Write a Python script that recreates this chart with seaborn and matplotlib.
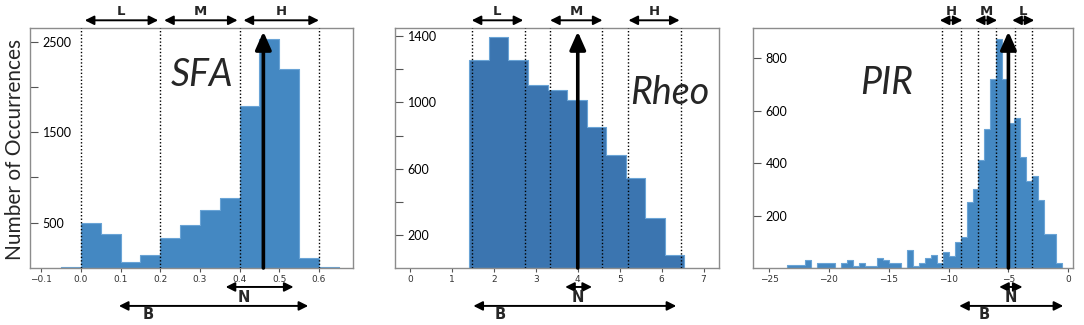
import numpy as np
import pandas as pd
import matplotlib
matplotlib.use('Agg')
import matplotlib.pyplot as plt
import seaborn as sns

sns.set_style('white')
plt.rcParams['font.family'] = ['DejaVu Sans']

# SFA histogram (bin width 0.05)
sfa_edges = np.round(np.arange(-0.05, 0.651, 0.05), 3)
sfa_counts = [15, 495, 377, 62, 143, 326, 473, 641, 773, 1788, 2524, 2201, 114, 11]
sfa_lines = [0.0, 0.2, 0.4, 0.6]
sfa_levels = ['L', 'M', 'H']
sfa_spans = [(0.01, 0.195), (0.21, 0.395), (0.41, 0.60)]
sfa_mean = 0.46
sfa_n = [0.365, 0.536]
sfa_b = [0.096, 0.573]

# Rheo histogram
rheo_edges = np.round(1.415 + 0.466 * np.arange(12), 3)
rheo_counts = [1255, 1395, 1255, 1103, 1073, 1014, 854, 684, 542, 300, 77]
rheo_lines = [1.47, 2.73, 3.34, 4.59, 5.19, 6.47]
rheo_levels = ['L', 'M', 'H']
rheo_spans = [(1.47, 2.70), (3.34, 4.59), (5.21, 6.43)]
rheo_mean = 4.0
rheo_n = [3.70, 4.34]
rheo_b = [1.51, 6.35]

# PIR histogram (bin width 0.5)
pir_edges = np.round(np.arange(-23.5, -0.49, 0.5), 2)
pir_counts = [10, 10, 10, 29, 0, 19, 19, 19, 0, 19, 29, 9, 19, 9, 9, 39, 29, 19, 19, 0,
              70, 9, 19, 38, 48, 19, 60, 47, 99, 118, 252, 300, 412, 531, 722, 874, 722,
              551, 573, 425, 330, 349, 260, 129, 129, 19]
pir_lines = [-10.53, -8.97, -7.53, -6.05, -4.49, -3.04]
pir_levels = ['H', 'M', 'L']
pir_spans = [(-10.73, -8.84), (-7.8, -5.94), (-4.68, -2.84)]
pir_mean = -5.0
pir_n = [-5.77, -3.82]
pir_b = [-9.11, -0.42]


def double_arrow(ax, x0, x1, y):
    ax.annotate('', xy=(x0, y), xytext=(x1, y),
                xycoords=('data', 'axes fraction'), annotation_clip=False,
                arrowprops=dict(arrowstyle='<|-|>,head_width=0.3,head_length=0.6',
                                lw=1.4, color='black', shrinkA=0, shrinkB=0,
                                mutation_scale=9))


def draw_panel(ax, edges, counts, color, lines, levels, spans, mean, n_rng, b_rng,
               name, name_xy, xlim, ylim, xticks, yticks, ylabels, n_x, b_x):
    df = pd.DataFrame({'x': (edges[:-1] + edges[1:]) / 2, 'w': counts})
    sns.histplot(data=df, x='x', weights='w', bins=list(edges), element='step', fill=True,
                 color=color, alpha=1, edgecolor='#6aa4d6', linewidth=0.8, ax=ax)
    ax.set_xlim(xlim)
    ax.set_ylim(ylim)
    ax.set_xlabel('')
    ax.set_ylabel('')

    # dotted level boundaries
    for v in lines:
        ax.axvline(v, color='black', linestyle=(0, (1, 1.5)), lw=1, zorder=3)

    # level arrows above the axes
    for (a, b), lab in zip(spans, levels):
        double_arrow(ax, a, b, 1.032)
        ax.text((a + b) / 2, 1.07, lab, transform=ax.get_xaxis_transform(),
                ha='center', va='center', fontsize=9.5, fontweight='bold')

    # mean arrow
    ax.annotate('', xy=(mean, 0.985), xytext=(mean, 0),
                xycoords=('data', 'axes fraction'),
                arrowprops=dict(arrowstyle='-|>,head_width=0.4,head_length=0.9',
                                lw=2.6, color='black', shrinkA=0, shrinkB=0,
                                mutation_scale=12), zorder=5)

    # N and B arrows below the axes
    for rng, lab, lx, ya, yl in [(n_rng, 'N', n_x, -0.079, -0.122),
                                 (b_rng, 'B', b_x, -0.158, -0.195)]:
        double_arrow(ax, rng[0], rng[1], ya)
        ax.text(lx, yl, lab, transform=ax.get_xaxis_transform(), ha='center',
                va='center', fontsize=10.5, fontweight='bold')

    ax.text(name_xy[0], name_xy[1], name, transform=ax.transAxes, ha='center',
            va='center', fontsize=27, style='italic', family='Lato')

    ax.set_xticks(xticks)
    ax.tick_params(axis='x', direction='out', length=3, width=0.8, colors='#555555',
                   labelsize=6.5, labelcolor='#333333', pad=2, bottom=True)
    ax.set_yticks(yticks)
    ax.set_yticklabels(ylabels, family='Lato', fontsize=9, ha='left')
    ax.tick_params(axis='y', direction='in', length=6, width=0.8, colors='#555555',
                   labelcolor='black', pad=-9, left=True)
    for s in ax.spines.values():
        s.set_visible(True)
        s.set_color('#8c8c8c')
        s.set_linewidth(1)


fig = plt.figure(figsize=(10.84, 3.25), dpi=100)
bottom, height = 0.1754, 0.7385
ax1 = fig.add_axes([0.0277, bottom, 0.298, height])
ax2 = fig.add_axes([0.3644, bottom, 0.2989, height])
ax3 = fig.add_axes([0.6946, bottom, 0.2952, height])

draw_panel(ax1, sfa_edges, sfa_counts, '#4488c2', sfa_lines, sfa_levels, sfa_spans, sfa_mean,
           sfa_n, sfa_b, 'SFA', (0.533, 0.805), (-0.128, 0.686), (0, 2650),
           [-0.1, 0, 0.1, 0.2, 0.3, 0.4, 0.5, 0.6],
           [500, 1000, 1500, 2000, 2500], ['500', '', '1500', '', '2500'], 0.41, 0.17)
draw_panel(ax2, rheo_edges, rheo_counts, '#3b75b0', rheo_lines, rheo_levels, rheo_spans,
           rheo_mean, rheo_n, rheo_b, 'Rheo', (0.849, 0.73), (-0.36, 7.37), (0, 1450),
           list(range(8)), [200, 400, 600, 800, 1000, 1200, 1400],
           ['200', '', '600', '', '1000', '', '1400'], 4.0, 2.15)
draw_panel(ax3, pir_edges, pir_counts, '#4488c2', pir_lines, pir_levels, pir_spans, pir_mean,
           pir_n, pir_b, 'PIR', (0.419, 0.772), (-26.34, 0.39), (0, 915),
           [-25, -20, -15, -10, -5, 0],
           [200, 400, 600, 800], ['200', '400', '600', '800'], -4.8, -7.0)

fig.text(0.014, 0.54, 'Number of Occurrences', rotation=90, ha='center', va='center',
         fontsize=15, family='Lato')

fig.savefig('out.png', dpi=100)
